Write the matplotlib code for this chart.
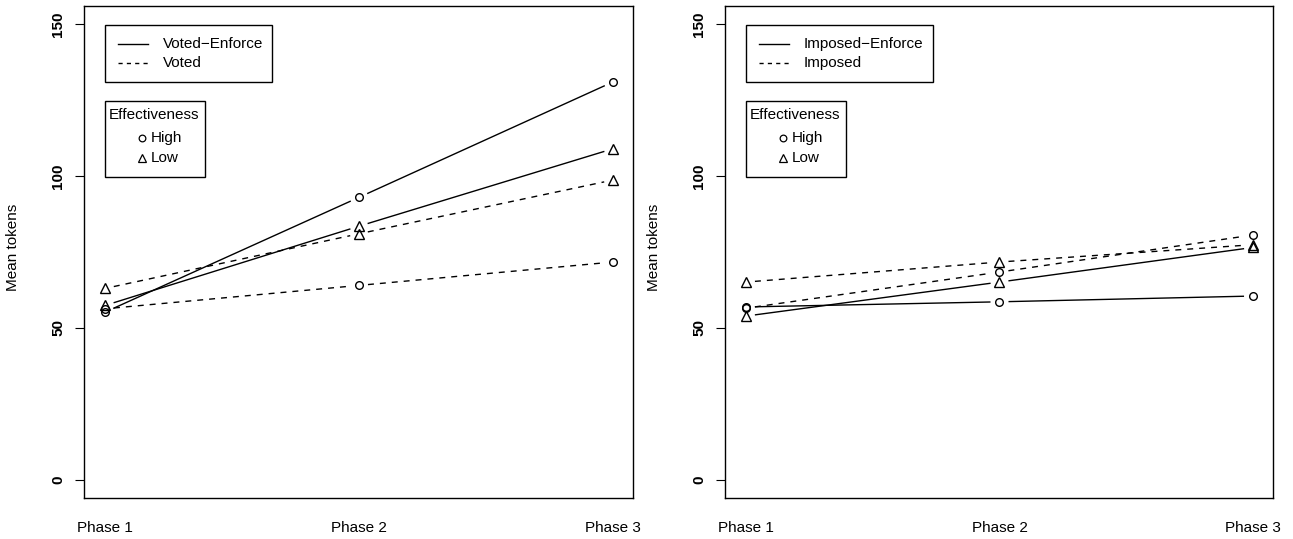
import numpy as np
import matplotlib
matplotlib.use("Agg")
import matplotlib.pyplot as plt
from matplotlib.lines import Line2D
from matplotlib.patches import Rectangle

plt.rcParams['font.family'] = ['Liberation Sans', 'DejaVu Sans']
plt.rcParams['lines.scale_dashes'] = False

# ---- data ----
phases = ["Phase 1", "Phase 2", "Phase 3"]
effect_levels = ["High", "Low"]

voted_enforce_high = [55.2, 93.0, 131.0]
voted_enforce_low = [57.4, 83.5, 109.0]
voted_high = [56.3, 64.0, 71.7]
voted_low = [63.0, 81.0, 98.7]

imposed_enforce_high = [56.9, 58.6, 60.5]
imposed_enforce_low = [53.9, 65.1, 76.5]
imposed_high = [56.5, 68.4, 80.6]
imposed_low = [65.1, 71.7, 77.4]

yticks = [0, 50, 100, 150]
ylabel = "Mean tokens"
legend_title = "Effectiveness"

W, H = 1293, 539
fig = plt.figure(figsize=(W / 100, H / 100), dpi=100)


def fx(px):
    return px / W


def fy(py):
    return 1 - py / H


axL = fig.add_axes([fx(84), fy(498), fx(633) - fx(84), fy(6) - fy(498)])
axR = fig.add_axes([fx(725), fy(498), fx(1273) - fx(725), fy(6) - fy(498)])

GAP = 9.0  # px gap around points (R type="b")
DASH = (4.3, 4.3)


def draw_series(ax, vals, marker, ls):
    x = np.arange(1, len(vals) + 1, dtype=float)
    y = np.asarray(vals, dtype=float)
    pts = ax.transData.transform(np.column_stack([x, y]))
    inv = ax.transData.inverted()
    for i in range(len(pts) - 1):
        p0, p1 = pts[i], pts[i + 1]
        d = p1 - p0
        L = np.hypot(*d)
        if L <= 2 * GAP:
            continue
        u = d / L
        a = inv.transform(p0 + u * GAP)
        b = inv.transform(p1 - u * GAP)
        ln, = ax.plot([a[0], b[0]], [a[1], b[1]], color='black', lw=1.0,
                      solid_capstyle='butt')
        if ls == 'dashed':
            ln.set_dashes(DASH)
    ms = 5.5 if marker == 'o' else 7.0
    ax.plot(x, y, linestyle='none', marker=marker, ms=ms, mfc='none',
            mec='black', mew=1.0)


def setup_axes(ax):
    ax.set_xlim(1 - 21 / 254, 3 + 20 / 254)
    ax.set_ylim(-6, 156)
    ax.set_yticks(yticks)
    ax.set_yticklabels([str(t) for t in yticks], rotation=90, va='center',
                       fontweight='bold', fontsize=11)
    ax.set_xticks([1, 2, 3])
    ax.set_xticklabels(phases, fontsize=11)
    ax.tick_params(axis='x', length=0, pad=16.5)
    ax.tick_params(axis='y', length=6.5, width=0.8, pad=7)
    for s in ax.spines.values():
        s.set_linewidth(1.0)
        s.set_color('black')
    ax.set_ylabel(ylabel, fontsize=11)
    ax.yaxis.set_label_coords((20 - 84) / 549, 0.51)


setup_axes(axL)
setup_axes(axR)

draw_series(axL, voted_enforce_high, 'o', 'solid')
draw_series(axL, voted_enforce_low, '^', 'solid')
draw_series(axL, voted_high, 'o', 'dashed')
draw_series(axL, voted_low, '^', 'dashed')

draw_series(axR, imposed_enforce_high, 'o', 'solid')
draw_series(axR, imposed_enforce_low, '^', 'solid')
draw_series(axR, imposed_high, 'o', 'dashed')
draw_series(axR, imposed_low, '^', 'dashed')

renderer = fig.canvas.get_renderer()


def draw_legends(ox, names):
    tf = fig.transFigure
    # legend 1: line types
    texts = []
    for i, (nm, ls) in enumerate(zip(names, ['solid', 'dashed'])):
        yy = 44 + i * 19
        ln = Line2D([fx(ox + 118), fx(ox + 148)], [fy(yy), fy(yy)],
                    transform=tf, color='black', lw=1.0)
        if ls == 'dashed':
            ln.set_dashes((3.0, 3.0))
        fig.add_artist(ln)
        t = fig.text(fx(ox + 163), fy(yy), nm, fontsize=11, va='center',
                     ha='left')
        texts.append(t)
    right = max(t.get_window_extent(renderer).x1 for t in texts) + 9
    fig.add_artist(Rectangle((fx(ox + 105), fy(82)), fx(right) - fx(ox + 105),
                             fy(25) - fy(82), transform=tf, fill=False,
                             ec='black', lw=1.0))
    # legend 2: markers
    tt = fig.text(fx(ox + 109), fy(115), legend_title, fontsize=11,
                  va='center', ha='left')
    right2 = tt.get_window_extent(renderer).x1 + 5
    for i, (lvl, mk) in enumerate(zip(effect_levels, ['o', '^'])):
        yy = 138 + i * 20
        fig.add_artist(Line2D([fx(ox + 142)], [fy(yy)], transform=tf,
                              linestyle='none', marker=mk,
                              ms=4.8 if mk == 'o' else 6.0, mfc='none',
                              mec='black', mew=0.9))
        fig.text(fx(ox + 151), fy(yy), lvl, fontsize=11, va='center',
                 ha='left')
    fig.add_artist(Rectangle((fx(ox + 105), fy(177)), fx(right2) - fx(ox + 105),
                             fy(101) - fy(177), transform=tf, fill=False,
                             ec='black', lw=1.0))


draw_legends(0, ["Voted\u2212Enforce", "Voted"])
draw_legends(641, ["Imposed\u2212Enforce", "Imposed"])

fig.savefig("out.png", dpi=100)
